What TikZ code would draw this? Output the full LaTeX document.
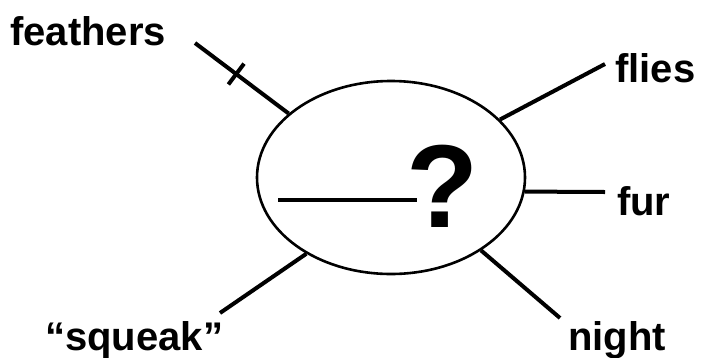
\documentclass[tikz,border=0pt]{standalone}
\usepackage{fontspec}
\setmainfont{Liberation Sans}
\usetikzlibrary{shapes.geometric}

\begin{document}
\begin{tikzpicture}[
    x=1pt, y=-1pt,
    bubble/.style={ellipse, draw, line width=2.6pt, minimum width=268pt, minimum height=193pt, inner sep=0pt},
    spoke/.style={line width=4pt},
    word/.style={anchor=base west, inner sep=0pt, font=\fontsize{40}{40}\selectfont\bfseries},
    tickbar/.style={fill=black, minimum width=4pt, minimum height=26pt, inner sep=0pt, sloped}
]
    \useasboundingbox (0,0) rectangle (701,357);

    % 中间的椭圆和问号
    \node[bubble] (hub) at (391,177.5) {};
    \node[anchor=base, inner sep=0pt, font=\fontsize{118}{118}\selectfont\bfseries] (qm) at (443,227) {?};
    \draw[spoke] (278,200) -- (417,200); % 空白横线

    % 四周的词
    \node[word] (feathers) at (10,45) {feathers};
    \node[word] (flies) at (615,82) {flies};
    \node[word] (fur) at (617,215) {fur};
    \node[word] (night) at (568,350) {night};
    \node[word] (squeak) at (45,350) {“squeak”};

    % 连线的外端点
    \coordinate (featherEnd) at (195,43);
    \coordinate (fliesEnd) at (605,64);
    \coordinate (furEnd) at (605,192);
    \coordinate (nightEnd) at (560,318);
    \coordinate (squeakEnd) at (220,313);

    % 连线
    \draw[spoke] (featherEnd) -- node[tickbar, pos=0.44] {} (hub.148);
    \draw[spoke] (hub.28.6) -- (fliesEnd);
    \draw[spoke] (hub.-6) -- (furEnd);
    \draw[spoke] (hub.-39.7) -- (nightEnd);
    \draw[spoke] (hub.-138) -- (squeakEnd);

\end{tikzpicture}
\end{document}
